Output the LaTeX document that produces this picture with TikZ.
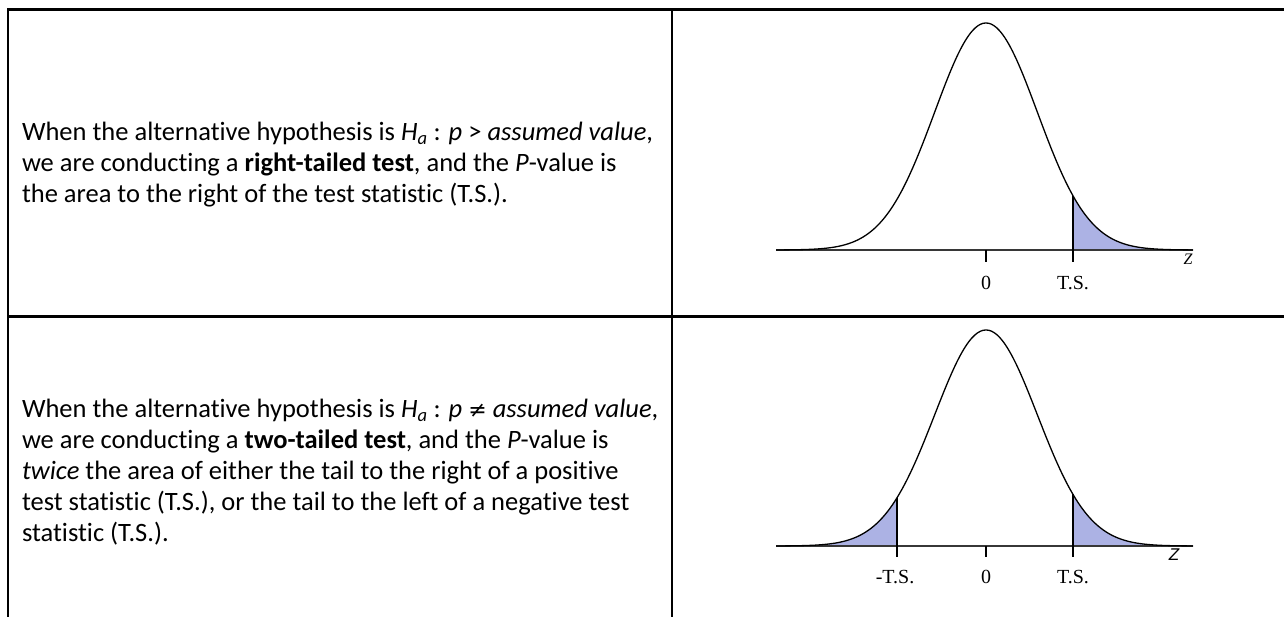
\documentclass[tikz,border=0pt]{standalone}
\usepackage{fontspec}
\setmainfont{Carlito}[Ligatures={NoCommon}]
\newfontfamily\axisfont{Liberation Serif}
\newfontfamily\zfont{Liberation Sans}
\newfontfamily\symfont{DejaVu Sans}
\definecolor{tbline}{RGB}{0,0,0}
\definecolor{pdline}{RGB}{0,0,0}
\definecolor{pdaxis}{RGB}{55,55,55}
\definecolor{pdfill}{RGB}{172,178,228}

\begin{document}
\begin{tikzpicture}[
  x=1pt,
  y=-1pt,
  every node/.style={inner sep=0pt, outer sep=0pt},
  declare function={bell(\t,\h)=\h*exp(-((\t-986)/51.4)^2/2);},
  tbGrid/.style={draw=tbline, line width=2.5pt},
  tbText/.style={font=\fontsize{26.5}{31}\selectfont, align=left, anchor=west, text=black},
  pdCurve/.style={draw=pdline, line width=1.3pt, samples=150, smooth, variable=\t},
  pdTail/.style={fill=pdfill, draw=none, samples=80, smooth, variable=\t},
  pdAxis/.style={draw=pdaxis, line width=1.2pt},
  pdMark/.style={draw=pdline, line width=1.2pt},
  pdLabel/.style={font=\axisfont\fontsize{20}{20}\selectfont, text=black},
  pdZ/.style={font=\itshape\fontsize{16}{16}\selectfont, text=black}
]

  \path[use as bounding box] (0,0) rectangle (1284,617);

  % table grid
  \draw[tbGrid] (8,617) -- (8,9.5) -- (1284,9.5);
  \draw[tbGrid] (8,316.5) -- (1284,316.5);
  \draw[tbGrid] (672,9.5) -- (672,617);

  % left column
  \node[tbText] (rightRule) at (22,165) {When the alternative hypothesis is \textit{H\textsubscript{a}} : \textit{p} > \textit{assumed value},\\
    we are conducting a \textbf{right-tailed test}, and the \textit{P}-value is\\
    the area to the right of the test statistic (T.S.).};

  \node[tbText] (twoRule) at (22,472) {When the alternative hypothesis is \textit{H\textsubscript{a}} : \textit{p} {\symfont\itshape\fontsize{22}{22}\selectfont ≠} \textit{assumed value},\\
    we are conducting a \textbf{two-tailed test}, and the \textit{P}-value is\\
    \textit{twice} the area of either the tail to the right of a positive\\
    test statistic (T.S.), or the tail to the left of a negative test\\
    statistic (T.S.).};

  % right-tailed curve
  \fill[pdTail] (1073,250) -- plot[domain=1073:1193] (\t,{250-bell(\t,227)}) -- (1193,250) -- cycle;
  \draw[pdAxis] (776,250) -- (1193,250);
  \draw[pdCurve, domain=776:1193] plot (\t,{250-bell(\t,227)});
  \coordinate (tsTopA) at (1073,{250-bell(1073,227)});
  \draw[pdMark] (986,250) -- (986,262);
  \draw[pdMark] (tsTopA) -- (1073,262);
  \node[pdLabel] (zeroA) at (986,283) {0};
  \node[pdLabel] (tsA) at (1073,283) {T.S.};
  \node[pdZ, font=\axisfont\itshape\fontsize{16}{16}\selectfont] (zA) at (1188,259) {Z};

  % two-tailed curve
  \fill[pdTail] (897,546) -- plot[domain=897:776] (\t,{546-bell(\t,216)}) -- (776,546) -- cycle;
  \fill[pdTail] (1073,546) -- plot[domain=1073:1193] (\t,{546-bell(\t,216)}) -- (1193,546) -- cycle;
  \draw[pdAxis] (776,546) -- (1193,546);
  \draw[pdCurve, domain=776:1193] plot (\t,{546-bell(\t,216)});
  \coordinate (tsTopL) at (897,{546-bell(897,216)});
  \coordinate (tsTopR) at (1073,{546-bell(1073,216)});
  \draw[pdMark] (986,546) -- (986,557);
  \draw[pdMark] (tsTopL) -- (897,557);
  \draw[pdMark] (tsTopR) -- (1073,557);
  \node[pdLabel] (tsL) at (895,577) {-T.S.};
  \node[pdLabel] (zeroB) at (986,577) {0};
  \node[pdLabel] (tsR) at (1073,577) {T.S.};
  \node[pdZ, font=\zfont\itshape\fontsize{17}{17}\selectfont] (zB) at (1174,555) {Z};

\end{tikzpicture}
\end{document}
